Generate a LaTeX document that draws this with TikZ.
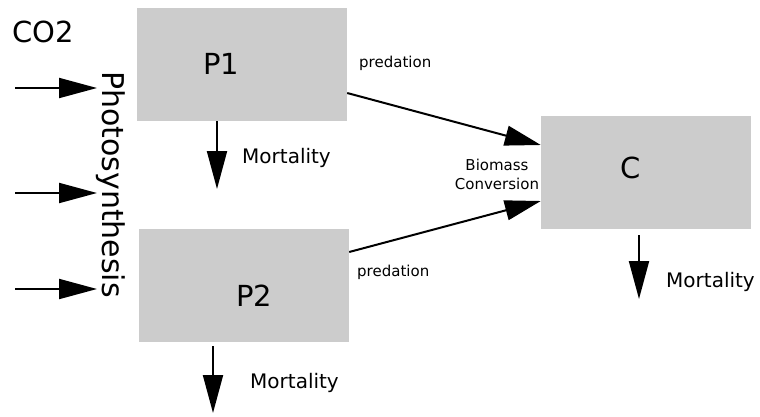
\documentclass[tikz,border=0pt]{standalone}
\usepackage{fontspec}
\setmainfont{DejaVu Sans}
\usetikzlibrary{arrows.meta,calc}
\definecolor{boxgray}{HTML}{CCCCCC}
\begin{document}
\begin{tikzpicture}[x=1pt,y=-1pt,
  box/.style={fill=boxgray,draw=none,inner sep=0,minimum width=210pt,minimum height=113pt},
  flow/.style={line width=2pt,-{Triangle[length=38pt,width=20pt]}},
  big/.style={font=\fontsize{29}{34}\selectfont,inner sep=0},
  mid/.style={font=\fontsize{20}{24}\selectfont,inner sep=0,anchor=base west},
  small/.style={font=\fontsize{15}{19}\selectfont,inner sep=0}]
\fill[white] (0,0) rectangle (760,416);
\useasboundingbox (0,0) rectangle (760,416);
% boxes
\node[box] (P1box) at (242,64.5) {};
\node[box] (P2box) at (244,285.5) {};
\node[box] (Cbox) at (646,172.5) {};
% box labels
\node[big,anchor=base west] (p1) at (203,74) {P1};
\node[big,anchor=base west] (p2) at (236,306) {P2};
\node[big,anchor=base west] (c) at (620,178) {C};
\node[big,anchor=base west] (co2) at (12,42) {CO2};
\node[big,font=\fontsize{30}{36}\selectfont,rotate=-90] (photo) at (111,184.5) {Photosynthesis};
% photosynthesis arrows
\coordinate (a1s) at (15,88);  \coordinate (a1e) at (97,88);
\coordinate (a2s) at (15,193); \coordinate (a2e) at (97,193);
\coordinate (a3s) at (15,289); \coordinate (a3e) at (97,289);
\draw[flow] (a1s) -- (a1e);
\draw[flow] (a2s) -- (a2e);
\draw[flow] (a3s) -- (a3e);
% mortality
\coordinate (m1) at (217,189);
\coordinate (m2) at (213,413);
\coordinate (m3) at (639,299);
\draw[flow] (m1 |- P1box.south) -- (m1);
\draw[flow] ($(m2 |- P2box.south)+(0,4)$) -- (m2);
\draw[flow] ($(m3 |- Cbox.south)+(0,6)$) -- (m3);
\node[mid] (mt1) at (242,163) {Mortality};
\node[mid] (mt2) at (250,388) {Mortality};
\node[mid] (mt3) at (666,287) {Mortality};
% predation
\coordinate (y1) at (0,93);  \coordinate (y2) at (0,145);
\coordinate (y3) at (0,252); \coordinate (y4) at (0,201);
\draw[flow,-{Triangle[length=36pt,width=20pt]}] (P1box.east |- y1) -- (Cbox.west |- y2);
\draw[flow,-{Triangle[length=36pt,width=20pt]}] (P2box.east |- y3) -- (Cbox.west |- y4);
\node[small,anchor=base west] (pr1) at (359,67) {predation};
\node[small,anchor=base west] (pr2) at (357,276) {predation};
\node[small,align=center] (bc) at (497,174) {Biomass\\Conversion};
\end{tikzpicture}
\end{document}
